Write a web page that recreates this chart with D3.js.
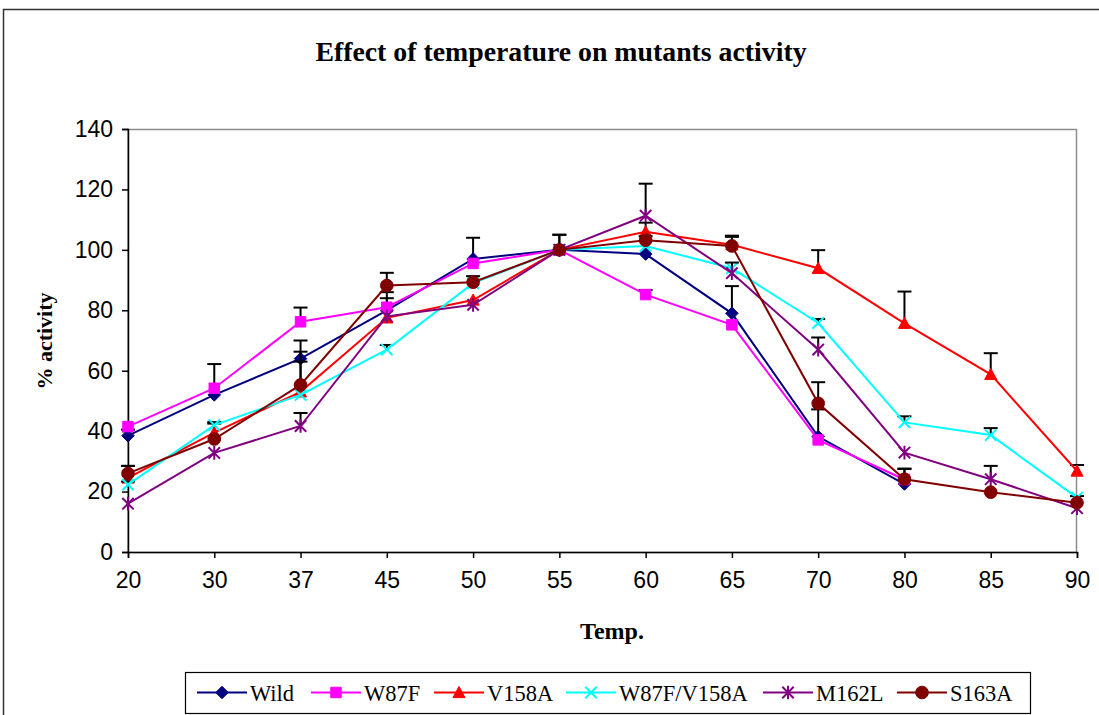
<!DOCTYPE html>
<html>
<head>
<meta charset="utf-8">
<script src="https://cdn.jsdelivr.net/npm/d3@7"></script>
<style>
  html, body { margin: 0; padding: 0; background: #fff; }
  svg { display: block; }
</style>
</head>
<body>
<svg id="chart" width="1099" height="715"></svg>
<script>
// Temperature points (°C) on the category axis
const temps = ["20", "30", "37", "45", "50", "55", "60", "65", "70", "80", "85", "90"];
const yTicks = [0, 20, 40, 60, 80, 100, 120, 140];

// Relative activity (%) per enzyme variant
const wild      = [38.5, 52, 64, 80, 97, 100, 98.6, 79, 38.2, 22.5, null, null];
const w87f      = [41.5, 54.2, 76.2, 81, 95.5, 100, 85.2, 75.2, 37.1, 24, null, null];
const v158a     = [24.5, 39.5, 53, 77.5, 83.4, 100, 106, 101.7, 93.9, 75.7, 58.8, 26.8];
const w87fV158a = [22.3, 42, 52, 67, 89, 100, 101.3, 93.9, 75.8, 42.9, 38.7, 18];
const m162l     = [16, 32.8, 41.7, 78, 81.8, 100, 111.3, 92.3, 67, 32.9, 24.1, 14.5];
const s163a     = [26, 37.4, 55.3, 88.2, 89.3, 100, 103.2, 101.3, 49.2, 24.1, 19.8, 16.3];

// Upper error (standard deviation, %) per point
const wildErr      = [2, 0, 6, 4, 7, 5, 0, 9, 9, 5, null, null];
const w87fErr      = [0, 8, 4.7, 5, 0, 0, 1.5, 0, 0, 0, null, null];
const v158aErr     = [4, 3, 10, 0, 0, 0, 3, 3, 6, 10.5, 7, 2];
const w87fV158aErr = [1, 1, 0, 1.5, 0, 0, 0, 0, 1.3, 2, 2.3, 0.5];
const m162lErr     = [0, 0, 4.3, 0, 0, 0, 10.6, 3.5, 4, 0, 4.4, 0];
const s163aErr     = [2.5, 0, 11, 4.2, 2, 5, 1.3, 3, 7, 3.5, 0, 0];

const seriesNames = ["Wild", "W87F", "V158A", "W87F/V158A", "M162L", "S163A"];
const seriesColors = ["#000080", "#FF00FF", "#FF0000", "#00FFFF", "#800080", "#800000"];
const seriesMarkers = ["diamond", "square", "triangle", "x", "star", "circle"];

const series = seriesNames.map((name, i) => ({
  name,
  color: seriesColors[i],
  marker: seriesMarkers[i],
  values: [wild, w87f, v158a, w87fV158a, m162l, s163a][i],
  errors: [wildErr, w87fErr, v158aErr, w87fV158aErr, m162lErr, s163aErr][i]
}));

const serif = "'Liberation Serif', 'Times New Roman', serif";
const sans = "'Liberation Sans', Arial, sans-serif";

const svg = d3.select("#chart");
const plot = { left: 128, right: 1077, top: 129, bottom: 552 };

const x = d3.scalePoint().domain(temps).range([plot.left, plot.right]).padding(0);
const y = d3.scaleLinear().domain([0, 140]).range([plot.bottom, plot.top]);

// Outer chart frame
svg.append("rect")
  .attr("x", 3.5).attr("y", 9.5).attr("width", 1100).attr("height", 720)
  .attr("fill", "none").attr("stroke", "#333").attr("stroke-width", 1.5);

// Title
svg.append("text")
  .attr("x", 561).attr("y", 61)
  .attr("text-anchor", "middle")
  .style("font-family", serif)
  .style("font-weight", "bold")
  .style("font-size", "27.8px")
  .text("Effect of temperature on mutants activity");

// Plot area frame (grey)
svg.append("rect")
  .attr("x", plot.left).attr("y", plot.top + 0.5)
  .attr("width", plot.right - plot.left - 0.5).attr("height", plot.bottom - plot.top)
  .attr("fill", "none").attr("stroke", "#8c8c8c").attr("stroke-width", 1.5);

// Y axis
const yAxis = d3.axisLeft(y).tickValues(yTicks).tickSize(6).tickPadding(9);
const gy = svg.append("g").attr("transform", `translate(${plot.left},0)`).call(yAxis);
gy.select(".domain").attr("stroke", "#000").attr("stroke-width", 1.5);
gy.selectAll(".tick line").attr("stroke", "#000").attr("stroke-width", 1.5);
gy.selectAll(".tick text")
  .style("font-family", sans)
  .style("font-size", "23px").attr("fill", "#000");

// X axis
const xAxis = d3.axisBottom(x).tickSize(6).tickPadding(14);
const gx = svg.append("g").attr("transform", `translate(0,${plot.bottom})`).call(xAxis);
gx.select(".domain").attr("stroke", "#000").attr("stroke-width", 1.5);
gx.selectAll(".tick line").attr("stroke", "#000").attr("stroke-width", 1.5);
gx.selectAll(".tick text")
  .style("font-family", sans)
  .style("font-size", "23px").attr("fill", "#000");

// Axis titles
svg.append("text")
  .attr("transform", "translate(52,341) rotate(-90)")
  .attr("text-anchor", "middle")
  .style("font-family", serif)
  .style("font-weight", "bold").style("font-size", "22px")
  .text("% activity");

svg.append("text")
  .attr("x", 612).attr("y", 639)
  .attr("text-anchor", "middle")
  .style("font-family", serif)
  .style("font-weight", "bold").style("font-size", "24px")
  .text("Temp.");

// Marker shapes
const markerTypes = {
  diamond: { draw(ctx, size) { const r = Math.sqrt(size) / 2 * 1.25; ctx.moveTo(0, -r); ctx.lineTo(r, 0); ctx.lineTo(0, r); ctx.lineTo(-r, 0); ctx.closePath(); } },
  square: { draw(ctx, size) { const r = Math.sqrt(size) / 2; ctx.rect(-r, -r, 2 * r, 2 * r); } },
  triangle: { draw(ctx, size) { const r = Math.sqrt(size) / 2 * 1.1; ctx.moveTo(0, -r); ctx.lineTo(r, r * 0.85); ctx.lineTo(-r, r * 0.85); ctx.closePath(); } },
  x: { draw(ctx, size) { const r = Math.sqrt(size) / 2; ctx.moveTo(-r, -r); ctx.lineTo(r, r); ctx.moveTo(r, -r); ctx.lineTo(-r, r); } },
  star: { draw(ctx, size) { const r = Math.sqrt(size) / 2; ctx.moveTo(-r, -r); ctx.lineTo(r, r); ctx.moveTo(r, -r); ctx.lineTo(-r, r); ctx.moveTo(0, -r * 1.2); ctx.lineTo(0, r * 1.2); } },
  circle: { draw(ctx, size) { const r = Math.sqrt(size) / 2; ctx.moveTo(r, 0); ctx.arc(0, 0, r, 0, 2 * Math.PI); } }
};
const markerSize = { diamond: 100, square: 110, triangle: 120, x: 130, star: 130, circle: 160 };
const isStroked = m => m === "x" || m === "star";

function drawMarker(g, s, cx, cy) {
  const path = d3.symbol().type(markerTypes[s.marker]).size(markerSize[s.marker])();
  const p = g.append("path").attr("d", path).attr("transform", `translate(${cx},${cy})`);
  if (isStroked(s.marker)) {
    p.attr("fill", "none").attr("stroke", s.color).attr("stroke-width", 2);
  } else {
    p.attr("fill", s.color).attr("stroke", s.color).attr("stroke-width", 1);
  }
}

const line = d3.line()
  .defined(d => d.v != null)
  .x(d => x(d.t)).y(d => y(d.v));

series.forEach(s => {
  const g = svg.append("g");
  const pts = temps.map((t, i) => ({ t, v: s.values[i], e: s.errors[i] }));

  // Error bars (plus direction)
  pts.filter(d => d.v != null && d.e).forEach(d => {
    const cx = x(d.t), y0 = y(d.v), y1 = y(d.v + d.e);
    g.append("line").attr("x1", cx).attr("x2", cx).attr("y1", y0).attr("y2", y1)
      .attr("stroke", "#000").attr("stroke-width", 2);
    g.append("line").attr("x1", cx - 7).attr("x2", cx + 7).attr("y1", y1).attr("y2", y1)
      .attr("stroke", "#000").attr("stroke-width", 2);
  });

  g.append("path").datum(pts).attr("d", line)
    .attr("fill", "none").attr("stroke", s.color).attr("stroke-width", 2);

  pts.filter(d => d.v != null).forEach(d => drawMarker(g, s, x(d.t), y(d.v)));
});

// Legend
const legend = svg.append("g");
legend.append("rect")
  .attr("x", 185.5).attr("y", 672.5).attr("width", 845).attr("height", 41)
  .attr("fill", "#fff").attr("stroke", "#000").attr("stroke-width", 1.2);

const legendX = [197, 311, 434, 566, 763, 897];
series.forEach((s, i) => {
  const lx = legendX[i], ly = 692.5;
  legend.append("line").attr("x1", lx).attr("x2", lx + 50).attr("y1", ly).attr("y2", ly)
    .attr("stroke", s.color).attr("stroke-width", 2);
  drawMarker(legend, s, lx + 25, ly);
  legend.append("text")
    .attr("x", lx + 53).attr("y", ly + 8)
    .style("font-family", serif)
    .style("font-size", "22.5px")
    .text(s.name);
});
</script>
</body>
</html>
